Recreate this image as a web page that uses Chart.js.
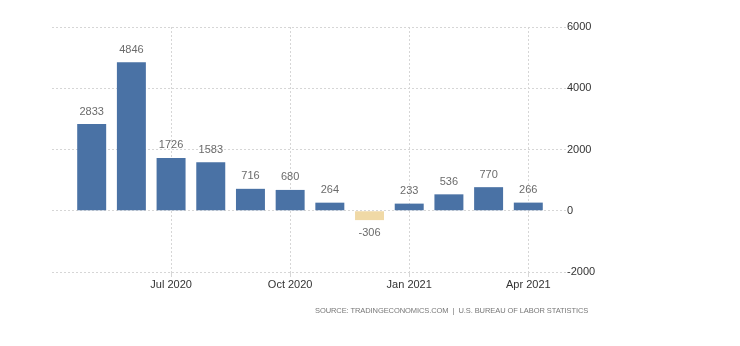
<!DOCTYPE html>
<html lang="en">
<head>
  <meta charset="UTF-8" />
  <title>Nonfarm Payrolls</title>
  <script src="https://cdn.jsdelivr.net/npm/chart.js"></script>
  <style>
    html, body { margin: 0; padding: 0; background: #fff; }
    .wrap { position: relative; width: 740px; height: 346px; }
    .source {
      position: absolute; left: 315px; top: 306px;
      font: 7.5px "Liberation Sans", sans-serif;
      color: #777; white-space: nowrap;
    }
  </style>
</head>
<body>
  <div class="wrap">
    <canvas id="chart" width="740" height="346"></canvas>
    <div class="source" id="source">SOURCE: TRADINGECONOMICS.COM&nbsp;&nbsp;|&nbsp;&nbsp;U.S. BUREAU OF LABOR STATISTICS</div>
  </div>

  <script>
    const months = ['May 2020', 'Jun 2020', 'Jul 2020', 'Aug 2020', 'Sep 2020', 'Oct 2020',
                    'Nov 2020', 'Dec 2020', 'Jan 2021', 'Feb 2021', 'Mar 2021', 'Apr 2021'];
    const values = [2833, 4846, 1726, 1583, 716, 680, 264, -306, 233, 536, 770, 266];
    const tickMonths = ['Jul 2020', 'Oct 2020', 'Jan 2021', 'Apr 2021'];
    const yTicks = [-2000, 0, 2000, 4000, 6000];

    const blue = '#4a72a5';
    const sand = '#f0d9a6';

    // stretch the source line to the width it has in the original
    const src = document.getElementById('source');
    const extra = (273 - src.offsetWidth) / src.textContent.length;
    src.style.letterSpacing = extra + 'px';

    // value labels above / below each bar
    const barLabels = {
      id: 'barLabels',
      afterDatasetsDraw(chart) {
        const ctx = chart.ctx;
        const meta = chart.getDatasetMeta(0);
        ctx.save();
        ctx.font = '11px "Liberation Sans", sans-serif';
        ctx.fillStyle = '#6b6b6b';
        ctx.textAlign = 'center';
        meta.data.forEach((bar, i) => {
          const v = values[i];
          if (v >= 0) {
            ctx.textBaseline = 'bottom';
            ctx.fillText(v, bar.x, bar.y - 7);
          } else {
            ctx.textBaseline = 'top';
            ctx.fillText(v, bar.x, bar.y + 7);
          }
        });
        ctx.restore();
      }
    };

    new Chart(document.getElementById('chart'), {
      type: 'bar',
      data: {
        datasets: [{
          data: values.map((v, i) => ({ x: i, y: v })),
          backgroundColor: values.map(v => v < 0 ? sand : blue),
          borderWidth: 0,
          barPercentage: 0.73,
          categoryPercentage: 1
        }]
      },
      options: {
        responsive: false,
        animation: false,
        layout: { padding: { left: 52, right: 0, top: 27, bottom: 0 } },
        plugins: { legend: { display: false }, tooltip: { enabled: false } },
        scales: {
          x: {
            type: 'linear',
            offset: false,
            min: -1,
            max: 11.95,
            afterBuildTicks: axis => {
              axis.ticks = tickMonths.map(m => ({ value: months.indexOf(m) }));
            },
            afterFit: axis => { axis.height = 74; },
            ticks: {
              autoSkip: false,
              maxRotation: 0,
              color: '#333',
              font: { size: 11, family: '"Liberation Sans", sans-serif' },
              padding: 1,
              callback: v => months[v]
            },
            grid: {
              offset: false,
              color: '#d6d6d6',
              tickLength: 5
            },
            border: { display: false, dash: [2, 2] }
          },
          y: {
            position: 'right',
            min: -2000,
            max: 6000,
            afterBuildTicks: axis => {
              axis.ticks = yTicks.map(v => ({ value: v }));
            },
            afterFit: axis => { axis.width = 174; },
            ticks: {
              color: '#333',
              font: { size: 11, family: '"Liberation Sans", sans-serif' },
              padding: 1,
              callback: v => String(v)
            },
            grid: { color: '#d6d6d6', drawTicks: false },
            border: { display: false, dash: [2, 2] }
          }
        }
      },
      plugins: [barLabels]
    });
  </script>
</body>
</html>
